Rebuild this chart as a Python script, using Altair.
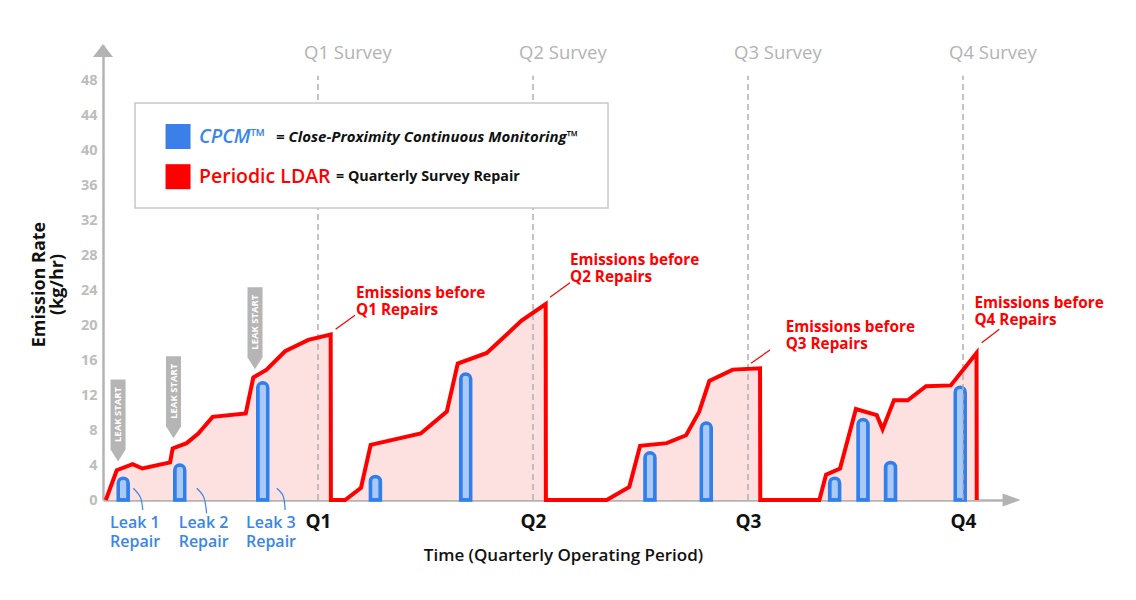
import altair as alt
import pandas as pd

FONT = "Open Sans"
RED = "#ff0000"
PINK = "#fde1e1"
BLUE = "#2f80ed"
BLUE_FILL = "#aac9f7"
BLUE_TEXT = "#3a86e8"
GRAY = "#b3b3b3"
INK = "#111111"
PX_PER_UNIT = 8.75  # vertical pixels per kg/hr (455 px for 0-52)

# Periodic LDAR emission trace (time in quarters, rate in kg/hr)
ldar_t = [0.013, 0.064, 0.138, 0.183, 0.312, 0.324, 0.389, 0.443, 0.510, 0.664, 0.699, 0.761, 0.847, 0.955, 1.059, 1.060,
          1.126, 1.200, 1.245, 1.478, 1.599, 1.650, 1.785, 1.947, 2.059, 2.060,
          2.343, 2.448, 2.498, 2.622, 2.712, 2.773, 2.820, 2.929, 3.056, 3.057,
          3.332, 3.363, 3.428, 3.502, 3.599, 3.626, 3.679, 3.743, 3.828, 3.943, 4.063, 4.064]
ldar_rate = [0, 3.4, 4.1, 3.6, 4.3, 5.9, 6.5, 7.6, 9.5, 9.9, 14.0, 14.9, 17.0, 18.3, 18.9, 0,
             0, 1.4, 6.3, 7.6, 10.1, 15.6, 16.8, 20.5, 22.4, 0,
             0, 1.5, 6.2, 6.5, 7.4, 10.1, 13.6, 14.9, 15.05, 0,
             0, 2.9, 3.6, 10.4, 9.7, 8.1, 11.4, 11.4, 13.0, 13.1, 16.8, 0]

# CPCM repair events (time, emission rate at repair)
cpcm_t = [0.094, 0.357, 0.743, 1.267, 1.687, 2.544, 2.806, 3.403, 3.535, 3.663, 3.987]
cpcm_rate = [2.5, 4.0, 13.4, 2.7, 14.4, 5.4, 8.8, 2.5, 9.2, 4.3, 12.9]

# Quarterly surveys
survey_t = [1, 2, 3, 4]
survey_labels = ["Q1 Survey", "Q2 Survey", "Q3 Survey", "Q4 Survey"]
survey_label_y = 51.1
survey_rule_top = 48.5

# Leak start markers (time, rate at marker tip)
leak_start_t = [0.070, 0.328, 0.707]
leak_start_rate = [4.4, 7.05, 14.95]

# Leak repair call-outs (first-line centre, line gap in px)
repair_t = [0.033, 0.352, 0.665]
repair_labels = ["Leak 1\nRepair", "Leak 2\nRepair", "Leak 3\nRepair"]
repair_y = -2.55
repair_gap = 18.4
repair_curves = [
    [(0.141, 1.34), (0.174, 0.30), (0.185, -1.14)],
    [(0.436, 1.34), (0.469, 0.30), (0.482, -1.52)],
    [(0.808, 1.34), (0.838, 0.45), (0.847, -1.14)],
]

# "Emissions before" call-outs (first-line centre)
note_t = [1.177, 2.172, 3.175, 4.053]
note_y = [23.69, 27.43, 19.81, 22.55]
note_labels = ["Emissions before\nQ1 Repairs", "Emissions before\nQ2 Repairs",
               "Emissions before\nQ3 Repairs", "Emissions before\nQ4 Repairs"]
note_gap = 17.2
note_lead_t = [(1.082, 1.172), (2.079, 2.172), (3.014, 3.102), (4.087, 4.169)]
note_lead_y = [(19.51, 21.11), (23.17, 24.83), (15.62, 17.14), (17.98, 19.51)]

# Legend panel
legend_box = {"t0": 0.149, "t1": 2.349, "y0": 33.37, "y1": 45.37}
legend_swatch_t = 0.349
legend_rows_y = [41.54, 36.95]
legend_keys = ["CPCM\u2122", "Periodic LDAR"]
legend_key_colors = [BLUE_TEXT, RED]
legend_key_t = 0.4465
legend_desc = ["= Close-Proximity Continuous Monitoring\u2122", "= Quarterly Survey Repair"]
legend_desc_t = [0.805, 1.084]

X = alt.Scale(domain=[0, 4.2], nice=False, zero=False, padding=0)
Y = alt.Scale(domain=[0, 52], nice=False, zero=False, padding=0)

x_axis = alt.Axis(
    values=[1, 2, 3, 4], labelExpr="'Q' + datum.value", labelFont=FONT, labelFontSize=19,
    labelFontWeight="bold", labelColor=INK, labelPadding=12, ticks=False, tickSize=0,
    domainColor=GRAY, domainWidth=2.5, grid=False, labelFlush=False,
    title="Time (Quarterly Operating Period)", titleFont=FONT, titleFontSize=17,
    titleFontWeight=600, titleColor=INK, titleX=460, titleY=47, titleBaseline="top",
    titleAlign="center",
)
y_axis = alt.Axis(
    values=list(range(0, 49, 4)), labelFont=FONT, labelFontSize=14.5, labelFontWeight="bold",
    labelColor="#bdbdbd", labelPadding=6, ticks=False, tickSize=0, domainColor=GRAY,
    domainWidth=2.5, grid=False, labelFlush=False,
    title=["Emission Rate", "(kg/hr)"], titleFont=FONT, titleFontSize=18, titleFontWeight="bold",
    titleColor=INK, titleX=-73, titleY=239, titleAngle=270, titleBaseline="top",
    titleAlign="center", titleLineHeight=18,
)


def xq(field):
    return alt.X(field, type="quantitative", scale=X, axis=x_axis)


def yq(field):
    return alt.Y(field, type="quantitative", scale=Y, axis=y_axis)


def top_anchor(center, font_size):
    # move a first-line centre up to the top anchor used by baseline="top"
    return center + 0.44 * font_size / PX_PER_UNIT


trace = pd.DataFrame({"t": ldar_t, "rate": ldar_rate, "i": list(range(len(ldar_t)))})
cpcm = pd.DataFrame({"t": cpcm_t, "rate": cpcm_rate})

area = alt.Chart(trace).mark_area(color=PINK, opacity=1).encode(x=xq("t"), y=yq("rate"))

bars = alt.Chart(cpcm).mark_bar(
    width=10, fill=BLUE_FILL, stroke=BLUE, strokeWidth=3.5,
    cornerRadiusTopLeft=5, cornerRadiusTopRight=5,
).encode(x=xq("t"), y=yq("rate"))

surveys = pd.DataFrame({"t": survey_t, "lo": [0] * 4, "hi": [survey_rule_top] * 4,
                        "label": survey_labels, "ly": [survey_label_y] * 4})
rules = alt.Chart(surveys).mark_rule(color="#b0b0b0", strokeWidth=1.5, strokeDash=[6, 4]).encode(
    x=xq("t"), y=yq("lo"), y2="hi:Q",
)
survey_text = alt.Chart(surveys).mark_text(
    font=FONT, fontSize=18.5, fontWeight=500, color=GRAY, align="left", baseline="middle", dx=-14,
).encode(x=xq("t"), y=yq("ly"), text="label:N")

line = alt.Chart(trace).mark_line(color=RED, strokeWidth=4, strokeJoin="miter").encode(
    x=xq("t"), y=yq("rate"), order="i:Q",
)

# axis arrowheads
arrow_up = alt.Chart(pd.DataFrame({"t": [0], "y": [51.37]})).mark_point(
    shape="M0,-0.65L1,0.65L-1,0.65Z", size=400, filled=True, color=GRAY, opacity=1,
).encode(x=xq("t"), y=yq("y"))
arrow_right = alt.Chart(pd.DataFrame({"t": [4.226], "y": [0]})).mark_point(
    shape="M0.9,0L-0.9,-0.65L-0.9,0.65Z", size=400, filled=True, color=GRAY, opacity=1,
).encode(x=xq("t"), y=yq("y"))

# leak start tags
tags = pd.DataFrame({"t": leak_start_t, "rate": leak_start_rate, "label": ["LEAK START"] * 3})
tag_shape = alt.Chart(tags).mark_point(
    shape="M-0.183,-1L0.183,-1L0.183,0.707L0,1L-0.183,0.707Z", size=6724,
    filled=True, color="#b5b5b5", opacity=1, yOffset=-41,
).encode(x=xq("t"), y=yq("rate"))
tag_text = alt.Chart(tags).mark_text(
    font=FONT, fontSize=9.5, fontWeight="bold", color="white", angle=270,
    align="center", baseline="middle", yOffset=-47,
).encode(x=xq("t"), y=yq("rate"), text="label:N")

# repair call-outs
REPAIR_FS = 16
repair_df = pd.DataFrame({"t": repair_t, "y": [top_anchor(repair_y, REPAIR_FS)] * 3, "text": repair_labels})
repair_text = alt.Chart(repair_df).mark_text(
    font=FONT, fontSize=REPAIR_FS, fontWeight=600, color=BLUE_TEXT, align="left", baseline="top",
    lineBreak="\n", lineHeight=repair_gap,
).encode(x=xq("t"), y=yq("y"), text="text:N")

curve_rows = []
for k, pts in enumerate(repair_curves):
    for j, (t, y) in enumerate(pts):
        curve_rows.append({"k": k, "j": j, "t": t, "y": y})
repair_curve = alt.Chart(pd.DataFrame(curve_rows)).mark_line(
    color=BLUE_TEXT, strokeWidth=1.2, interpolate="natural",
).encode(x=xq("t"), y=yq("y"), detail="k:N", order="j:Q")

# emissions-before call-outs
NOTE_FS = 15.3
note_df = pd.DataFrame({"t": note_t, "y": [top_anchor(v, NOTE_FS) for v in note_y], "text": note_labels})
note_text = alt.Chart(note_df).mark_text(
    font=FONT, fontSize=NOTE_FS, fontWeight="bold", color=RED, align="left", baseline="top",
    lineBreak="\n", lineHeight=note_gap,
).encode(x=xq("t"), y=yq("y"), text="text:N")

lead_rows = [{"t0": a[0], "t1": a[1], "y0": b[0], "y1": b[1]} for a, b in zip(note_lead_t, note_lead_y)]
note_lead = alt.Chart(pd.DataFrame(lead_rows)).mark_rule(color=RED, strokeWidth=1.2).encode(
    x=xq("t0"), x2="t1:Q", y=yq("y0"), y2="y1:Q",
)

# legend panel
box = alt.Chart(pd.DataFrame([legend_box])).mark_rect(
    fill="white", stroke="#c8c8c8", strokeWidth=1.5,
).encode(x=xq("t0"), x2="t1:Q", y=yq("y0"), y2="y1:Q")
swatches = pd.DataFrame({"t": [legend_swatch_t] * 2, "y": legend_rows_y, "c": ["#3a80e8", RED]})
swatch = alt.Chart(swatches).mark_square(size=625, opacity=1).encode(
    x=xq("t"), y=yq("y"), color=alt.Color("c:N", scale=None),
)
keys = pd.DataFrame({"t": [legend_key_t] * 2, "y": legend_rows_y, "text": legend_keys, "c": legend_key_colors})
key_cpcm = alt.Chart(keys.iloc[[0]]).mark_text(
    font=FONT, fontSize=19.5, fontWeight=600, fontStyle="italic", align="left", baseline="middle",
).encode(x=xq("t"), y=yq("y"), text="text:N", color=alt.Color("c:N", scale=None))
key_ldar = alt.Chart(keys.iloc[[1]]).mark_text(
    font=FONT, fontSize=19.5, fontWeight=600, align="left", baseline="middle",
).encode(x=xq("t"), y=yq("y"), text="text:N", color=alt.Color("c:N", scale=None))
desc = pd.DataFrame({"t": legend_desc_t, "y": legend_rows_y, "text": legend_desc})
desc_cpcm = alt.Chart(desc.iloc[[0]]).mark_text(
    font=FONT, fontSize=15, fontWeight="bold", fontStyle="italic", color=INK, align="left", baseline="middle",
).encode(x=xq("t"), y=yq("y"), text="text:N")
desc_ldar = alt.Chart(desc.iloc[[1]]).mark_text(
    font=FONT, fontSize=14.3, fontWeight="bold", color=INK, align="left", baseline="middle",
).encode(x=xq("t"), y=yq("y"), text="text:N")

chart = alt.layer(
    area, bars, rules, line, arrow_up, arrow_right, tag_shape, tag_text,
    repair_curve, repair_text, note_lead, note_text, survey_text,
    box, swatch, key_cpcm, key_ldar, desc_cpcm, desc_ldar,
).properties(
    width=903, height=455,
    padding={"left": 103, "top": 45, "right": 130, "bottom": 100},
    autosize=alt.AutoSizeParams(type="none"),
    background="white",
).configure_view(stroke=None)

chart.save("out.html", embed_options={"renderer": "svg", "actions": False})
